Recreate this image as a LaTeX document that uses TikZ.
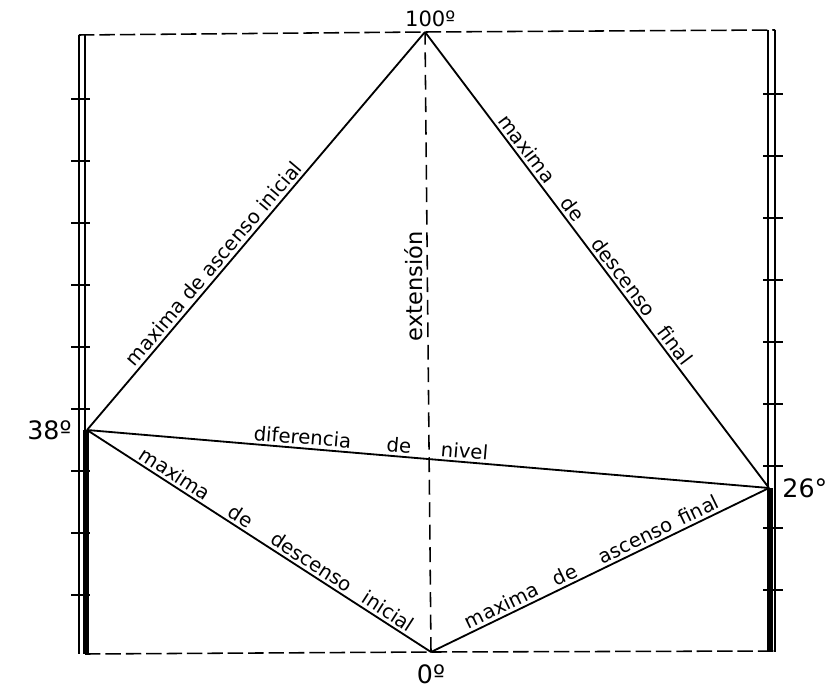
\documentclass[tikz,border=0pt]{standalone}
\usepackage{fontspec}
\usepackage{tikz}
\usetikzlibrary{positioning}
\newfontfamily\rotulo{DejaVu Sans}

\begin{document}
\begin{tikzpicture}[x=0.025cm,y=-0.025cm,
          linea/.style={line width=1.3pt},
          guia/.style={line width=1.1pt,dash pattern=on 11pt off 3.5pt},
          eje/.style={line width=1.1pt,dash pattern=on 10.5pt off 5.5pt},
          poste/.style={line width=0.9pt},
          barra/.style={line width=3.6pt},
          rot/.style={font=\rotulo\fontsize{14}{16}\selectfont,
                      sloped,above,inner sep=2pt},
          grado/.style={font=\rotulo\fontsize{18}{20}\selectfont,inner sep=0pt},
        ]
        \useasboundingbox (0,0) rectangle (826,688);
        % Puntos
        \coordinate (top) at (425,32);
        \coordinate (p38) at (87,430);
        \coordinate (p26) at (769,488);
        \coordinate (p0)  at (431,652);
        \coordinate (tl)  at (79,35);
        \coordinate (tr)  at (775,30);
        \coordinate (bl)  at (85,654);
        \coordinate (br)  at (775,651);
        % Postes
        \draw[poste] (79,35) -- (79,654);
        \draw[poste] (85,35) -- (85,654);
        \draw[poste] (768,30) -- (768,652);
        \draw[poste] (775,30) -- (775,652);
        \draw[barra] (86,430) -- (86,654);
        \draw[barra] (770,488) -- (770,652);
        \foreach \y in {99,161,...,595}{
          \draw[poste] (71,\y) -- (90,\y);
        }
        \foreach \y in {94,156,...,590}{
          \draw[poste] (763,\y) -- (783,\y);
        }
        % Marco
        \draw[guia] (tl) -- (top) -- (tr);
        \draw[guia] (bl) -- (p0) -- (br);
        \draw[eje] (p0) -- node[font=\rotulo\fontsize{16}{18}\selectfont,
          pos=0.59,rotate=90,anchor=south,inner sep=3pt] {extensión} (top);
        % Lineas
        \draw[linea] (p38) -- node[rot,pos=0.40] {maxima de ascenso inicial} (top);
        \draw[linea] (top) -- node[rot,pos=0.47]
          {maxima\hspace{0.9em} de\hspace{1em} descenso\hspace{0.6em} final} (p26);
        \draw[linea] (p38) -- node[rot,pos=0.415]
          {diferencia\hspace{1.5em} de\hspace{1.2em} nivel} (p26);
        \draw[linea] (p38) -- node[rot,pos=0.535]
          {maxima\hspace{1em} de\hspace{1em} descenso\hspace{0.5em} inicial} (p0);
        \draw[linea] (p0) -- node[rot,pos=0.49]
          {maxima\hspace{0.6em} de\hspace{1em} ascenso\hspace{0.15em} final} (p26);
        % Grados
        \node[grado,font=\rotulo\fontsize{15}{17}\selectfont,
              above=1.2mm of top,xshift=1.3mm] (t100) {100º};
        \node[grado,left=3.8mm of p38] (t38) {38º};
        \node[grado,right=3.3mm of p26] (t26) {26°};
        \node[grado,below=3.2mm of p0] (t0) {0º};
      \end{tikzpicture}
\end{document}
